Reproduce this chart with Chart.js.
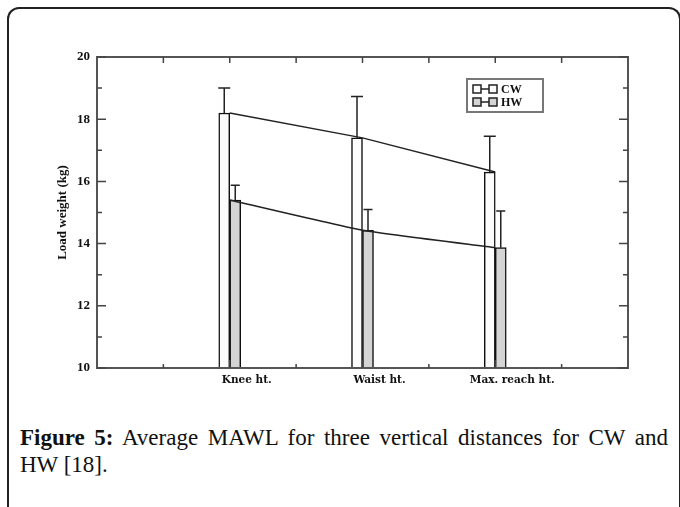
<!DOCTYPE html>
<html>
<head>
<meta charset="utf-8">
<script src="https://cdn.jsdelivr.net/npm/chart.js@4.4.1/dist/chart.umd.min.js"></script>
<style>
  html, body { margin: 0; padding: 0; background: #fff; width: 680px; height: 507px; overflow: hidden; }
  #frame { position: absolute; left: 7px; top: 7px; width: 674px; height: 520px; box-sizing: border-box;
           border-left: 2px solid #222; border-top: 2px solid #222; border-right: 2px solid #222;
           border-radius: 12px 12px 0 0; }
  #wrap { position: absolute; left: 0; top: 0; width: 680px; height: 400px; }
  #caption { position: absolute; left: 20px; top: 424px; width: 648px; font-family: "Liberation Serif", serif;
             font-size: 23px; line-height: 27px; color: #111; }
  #caption .l1 { text-align: justify; text-align-last: justify; white-space: nowrap; }
</style>
</head>
<body>
<div id="frame"></div>
<div id="wrap"><canvas id="c" width="680" height="400"></canvas></div>
<div id="caption">
  <div class="l1"><b>Figure 5:</b> Average MAWL for three vertical distances for CW and</div>
  <div>HW [18].</div>
</div>
<script>
// ---- data ----
const categories = ['Knee ht.', 'Waist ht.', 'Max. reach ht.'];
const categoryX = [2, 4, 6];
const seriesNames = ['CW', 'HW'];
const cwMeans = [18.2, 17.4, 16.3];
const cwUpper = [19.0, 18.73, 17.45];
const hwMeans = [15.4, 14.43, 13.87];
const hwUpper = [15.88, 15.1, 15.05];
const yMin = 10, yMax = 20, yStep = 2;
const xMin = 0, xMax = 8;

const pts = (vals) => vals.map((v, i) => ({ x: categoryX[i], y: v }));

const frameAndTicks = {
  id: 'frameAndTicks',
  afterDatasetsDraw(chart) {
    const { ctx, chartArea: a, scales: { x, y } } = chart;
    ctx.save();
    // error bars
    const errs = [cwUpper, hwUpper];
    const capW = [12, 9];
    [0, 1].forEach(di => {
      const meta = chart.getDatasetMeta(di);
      meta.data.forEach((el, i) => {
        const top = y.getPixelForValue(errs[di][i]);
        ctx.strokeStyle = '#222';
        ctx.lineWidth = 1.5;
        ctx.beginPath();
        ctx.moveTo(el.x, el.y);
        ctx.lineTo(el.x, top);
        ctx.moveTo(el.x - capW[di] / 2, top);
        ctx.lineTo(el.x + capW[di] / 2, top);
        ctx.stroke();
      });
    });
    // plot frame
    ctx.strokeStyle = '#555';
    ctx.lineWidth = 2;
    ctx.strokeRect(a.left, a.top, a.right - a.left, a.bottom - a.top);
    // inward tick marks
    ctx.lineWidth = 1.5;
    ctx.strokeStyle = '#444';
    ctx.beginPath();
    for (let v = yMin; v <= yMax; v += 1) {
      const p = y.getPixelForValue(v);
      const len = (v % 2 === 0) ? 9 : 5;
      ctx.moveTo(a.left, p); ctx.lineTo(a.left + len, p);
      ctx.moveTo(a.right, p); ctx.lineTo(a.right - len, p);
    }
    for (let v = xMin + 1; v < xMax; v += 1) {
      const p = x.getPixelForValue(v);
      const lenB = (v % 2 === 0) ? 8 : 4;
      ctx.moveTo(p, a.bottom); ctx.lineTo(p, a.bottom - lenB);
      ctx.moveTo(p, a.top); ctx.lineTo(p, a.top + 6);
    }
    ctx.stroke();
    // legend box
    const bx = a.right - 161, by = a.top + 22, bw = 76, bh = 33;
    ctx.strokeStyle = '#777';
    ctx.lineWidth = 2;
    ctx.strokeRect(bx, by, bw, bh);
    const fills = ['#ffffff', '#d4d4d4'];
    seriesNames.forEach((name, k) => {
      const cy = by + 10 + k * 13;
      ctx.strokeStyle = '#222';
      ctx.lineWidth = 1.5;
      ctx.fillStyle = fills[k];
      [bx + 6, bx + 22].forEach(sx => {
        ctx.fillRect(sx, cy - 4, 8, 8);
        ctx.strokeRect(sx, cy - 4, 8, 8);
      });
      ctx.beginPath();
      ctx.moveTo(bx + 14, cy); ctx.lineTo(bx + 22, cy);
      ctx.stroke();
      ctx.fillStyle = '#111';
      ctx.font = 'bold 12px "Liberation Serif"';
      ctx.textBaseline = 'middle';
      ctx.textAlign = 'left';
      ctx.fillText(name, bx + 34, cy + 1);
    });
    ctx.restore();
  }
};

new Chart(document.getElementById('c'), {
  type: 'bar',
  data: {
    datasets: [
      { type: 'bar', label: seriesNames[0], data: pts(cwMeans), backgroundColor: '#fcfcfc',
        borderColor: '#111', borderWidth: 1.5, barThickness: 11, order: 2 },
      { type: 'bar', label: seriesNames[1], data: pts(hwMeans), backgroundColor: '#d4d4d4',
        borderColor: '#111', borderWidth: 1.5, barThickness: 11, order: 2 },
      { type: 'line', label: seriesNames[0] + ' line', data: pts(cwMeans), borderColor: '#222',
        borderWidth: 1.5, pointRadius: 0, tension: 0, order: 1 },
      { type: 'line', label: seriesNames[1] + ' line', data: pts(hwMeans), borderColor: '#222',
        borderWidth: 1.5, pointRadius: 0, tension: 0.15, order: 1 }
    ]
  },
  options: {
    responsive: false,
    animation: false,
    devicePixelRatio: 1,
    layout: { padding: { top: 57, right: 52, left: 0, bottom: 0 } },
    plugins: { legend: { display: false }, tooltip: { enabled: false } },
    scales: {
      x: {
        type: 'linear', min: xMin, max: xMax, offset: false,
        grid: { display: false, drawTicks: false },
        border: { display: false },
        afterFit(s) { s.height = 32; },
        ticks: {
          stepSize: 1, autoSkip: false, maxRotation: 0, padding: 6, labelOffset: 17,
          color: '#111', font: { family: 'DejaVu Serif', weight: 'bold', size: 10.5 },
          callback: (v) => { const i = categoryX.indexOf(v); return i >= 0 ? categories[i] : ''; }
        }
      },
      y: {
        type: 'linear', min: yMin, max: yMax,
        grid: { display: false, drawTicks: false },
        border: { display: false },
        afterFit(s) { s.width = 97; },
        ticks: { stepSize: yStep, padding: 7, color: '#111',
                 font: { family: 'Liberation Serif', weight: 'bold', size: 13 } },
        title: { display: true, text: 'Load weight (kg)', color: '#111',
                 font: { family: 'Liberation Serif', weight: 'bold', size: 13 },
                 padding: { top: 55, bottom: 0 } }
      }
    }
  },
  plugins: [frameAndTicks]
});
</script>
</body>
</html>
